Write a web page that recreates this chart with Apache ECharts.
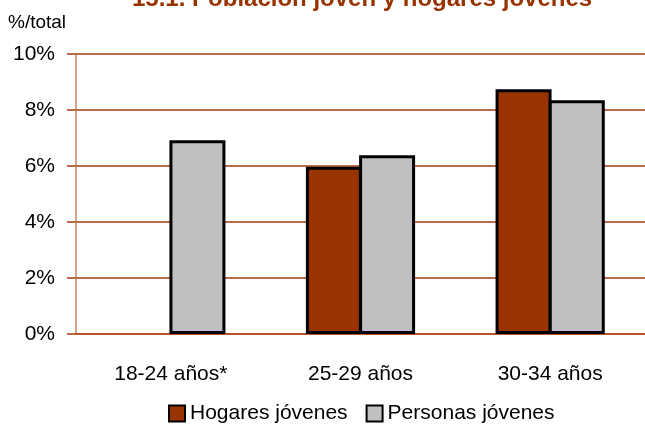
<!DOCTYPE html>
<html>
<head>
<meta charset="utf-8">
<script src="https://cdn.jsdelivr.net/npm/echarts@6/dist/echarts.min.js"></script>
<style>
html,body{margin:0;padding:0;background:#fff;}
#chart{width:645px;height:433px;}
</style>
</head>
<body>
<div id="chart"></div>
<script>
var categories = ['18-24 años*', '25-29 años', '30-34 años'];
var hogares = [null, 5.97, 8.74];
var personas = [6.92, 6.38, 8.35];
var seriesNames = ['Hogares jóvenes', 'Personas jóvenes'];
var yTicks = [0, 2, 4, 6, 8, 10];
var titleText = '15.1. Población joven y hogares jóvenes';
var unitText = '%/total';

var FONT = "'Liberation Sans', Arial, sans-serif";
var chart = echarts.init(document.getElementById('chart'), null, {renderer: 'canvas'});
chart.setOption({
  animation: false,
  backgroundColor: '#fff',
  title: {
    text: titleText,
    left: 132,
    top: -13,
    padding: 0,
    textStyle: {fontFamily: FONT, fontSize: 24, fontWeight: 'bold', color: '#993300'}
  },
  graphic: [{
    type: 'text', left: 8, top: 13,
    style: {text: unitText, font: "19px 'Liberation Sans', Arial, sans-serif", fill: '#000'}
  }],
  legend: {
    left: 168,
    top: 403,
    padding: 0,
    icon: 'rect',
    itemWidth: 16,
    itemHeight: 16,
    itemGap: 18,
    textStyle: {fontFamily: FONT, fontSize: 21, color: '#000'},
    data: seriesNames
  },
  grid: {left: 76, right: -4, top: 54, height: 280},
  xAxis: {
    type: 'category',
    data: categories,
    axisLine: {lineStyle: {color: '#b4501e', width: 1.5}},
    axisTick: {show: false},
    axisLabel: {margin: 30, fontFamily: FONT, fontSize: 21, color: '#000'}
  },
  yAxis: {
    type: 'value',
    min: yTicks[0],
    max: yTicks[yTicks.length - 1],
    interval: 2,
    axisLine: {show: true, lineStyle: {color: '#c98460', width: 1.5}},
    axisTick: {show: true, inside: false, length: 9, lineStyle: {color: '#a33a0a', width: 1.5}},
    splitLine: {lineStyle: {color: '#a33a0a', width: 1.5}},
    axisLabel: {margin: 21, fontFamily: FONT, fontSize: 21, color: '#000', formatter: function(v){return v + '%';}}
  },
  series: [
    {
      name: seriesNames[0], type: 'bar', data: hogares, barWidth: 56, barGap: '-5%',
      itemStyle: {color: '#993300', borderColor: '#000', borderWidth: 3},
      z: 2
    },
    {
      name: seriesNames[1], type: 'bar', data: personas, barWidth: 56, barGap: '-5%',
      itemStyle: {color: '#c0c0c0', borderColor: '#000', borderWidth: 3},
      z: 2
    }
  ]
});
</script>
</body>
</html>
